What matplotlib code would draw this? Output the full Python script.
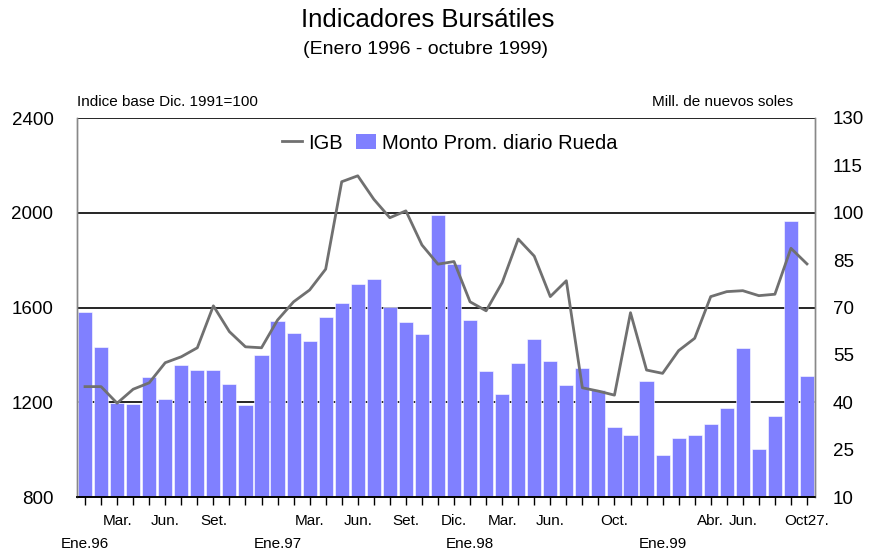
import matplotlib
matplotlib.use("Agg")
import matplotlib.pyplot as plt
import numpy as np
from matplotlib.lines import Line2D
from matplotlib.patches import Patch

plt.rcParams['font.family'] = ['Liberation Sans', 'DejaVu Sans']

# Monthly data, Jan 1996 - Oct 1999
igb = [1266, 1266, 1196, 1255, 1282, 1367, 1392, 1430, 1607, 1498, 1434, 1430,
       1547, 1624, 1674, 1762, 2131, 2156, 2057, 1979, 2008, 1864, 1783, 1794,
       1624, 1586, 1705, 1889, 1817, 1646, 1713, 1261, 1247, 1230, 1578, 1336,
       1322, 1418, 1470, 1646, 1667, 1671, 1650, 1656, 1850, 1784]
monto = [68.7, 57.4, 39.8, 39.3, 47.9, 41.0, 51.8, 50.2, 50.2, 45.9, 39.1, 55.0,
         65.8, 61.9, 59.5, 66.9, 71.3, 77.5, 79.1, 70.3, 65.5, 61.6, 99.3, 83.9,
         66.0, 50.0, 42.6, 52.4, 60.1, 53.2, 45.5, 51.0, 43.9, 32.3, 29.6, 46.8,
         23.3, 28.8, 29.6, 33.0, 38.1, 57.3, 25.3, 35.7, 97.3, 48.3]
month_labels = {2: 'Mar.', 5: 'Jun.', 8: 'Set.',
                14: 'Mar.', 17: 'Jun.', 20: 'Set.', 23: 'Dic.',
                26: 'Mar.', 29: 'Jun.', 33: 'Oct.',
                39: 'Abr.', 41: 'Jun.', 45: 'Oct27.'}
year_pos = [0, 12, 24, 36]
year_labels = ['Ene.96', 'Ene.97', 'Ene.98', 'Ene.99']
left_ticks = [800, 1200, 1600, 2000, 2400]
right_ticks = [10, 25, 40, 55, 70, 85, 100, 115, 130]

x = np.arange(len(monto))

fig = plt.figure(figsize=(8.71, 5.51), dpi=100)
ax1 = fig.add_axes([77/871, 54/551, 738/871, 379/551])
ax2 = ax1.twinx()

bar_color = '#8080FF'
line_color = '#707070'

# bars on right scale
ax1.bar(x, monto, width=0.88, color=bar_color, edgecolor='white', linewidth=0.4, zorder=2)
for v in right_ticks[2::2]:
    ax1.axhline(v, color='black', lw=1.2, zorder=1)
ax1.set_ylim(right_ticks[0], right_ticks[-1])
ax1.set_xlim(-0.5, len(monto) - 0.5)
ax1.yaxis.tick_right()
ax1.set_yticks(right_ticks)
ax1.tick_params(axis='y', length=0, pad=13, labelsize=13.5)

# line on left scale
ax2.plot(x, igb, color=line_color, lw=2, zorder=3)
ax2.set_ylim(left_ticks[0], left_ticks[-1])
ax2.yaxis.tick_left()
ax2.set_yticks(left_ticks)
ax2.tick_params(axis='y', length=0, pad=17, labelsize=13.5)

# x ticks: months (row 1) and years (row 2)
ax1.xaxis.remove_overlapping_locs = False
ax1.set_xticks(x)
ax1.set_xticklabels([month_labels.get(i, '') for i in x], fontsize=11)
ax1.tick_params(axis='x', which='major', length=6, width=1, direction='out', pad=6.5)
ax1.set_xticks(year_pos, minor=True)
ax1.set_xticklabels(year_labels, minor=True, fontsize=11)
ax1.tick_params(axis='x', which='minor', length=0, pad=28.5)

for a in (ax1, ax2):
    a.spines['top'].set_visible(False)
    a.spines['left'].set_color('#888888')
    a.spines['left'].set_linestyle((0, (1, 1)))
    a.spines['left'].set_linewidth(1)
    a.spines['right'].set_color('#888888')
    a.spines['right'].set_linestyle((0, (1, 1)))
    a.spines['right'].set_linewidth(1)
    a.spines['bottom'].set_color('black')
    a.spines['bottom'].set_linewidth(1.2)

handles = [Line2D([0], [0], color=line_color, lw=2),
           Patch(facecolor=bar_color, edgecolor='none')]
ax2.legend(handles, ['IGB', 'Monto Prom. diario Rueda'], loc='center',
           bbox_to_anchor=(0.5047, 0.934), ncol=2, frameon=False, fontsize=14.5,
           handlelength=1.0, handleheight=0.7, handletextpad=0.3, columnspacing=0.65)

fig.text(428/871, 1 - 20/551, 'Indicadores Bursátiles', ha='center', va='center', fontsize=18.5)
fig.text(425/871, 1 - 49/551, '(Enero 1996 - octubre 1999)', ha='center', va='center', fontsize=14)
fig.text(77/871, 1 - 102/551, 'Indice base Dic. 1991=100', ha='left', va='center', fontsize=11)
fig.text(793/871, 1 - 102/551, 'Mill. de nuevos soles', ha='right', va='center', fontsize=11)

fig.savefig('out.png', dpi=100)
